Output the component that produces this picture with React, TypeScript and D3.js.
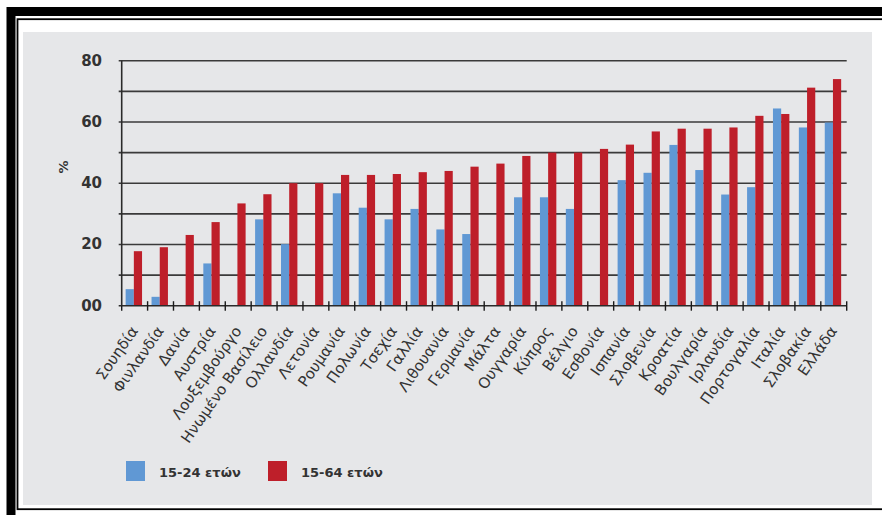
import React from "react";
import * as d3 from "d3";

const countries = [
  "Σουηδία", "Φινλανδία", "Δανία", "Αυστρία", "Λουξεμβούργο", "Ηνωμένο Βασίλειο",
  "Ολλανδία", "Λετονία", "Ρουμανία", "Πολωνία", "Τσεχία", "Γαλλία", "Λιθουανία",
  "Γερμανία", "Μάλτα", "Ουγγαρία", "Κύπρος", "Βέλγιο", "Εσθονία", "Ισπανία",
  "Σλοβενία", "Κροατία", "Βουλγαρία", "Ιρλανδία", "Πορτογαλία", "Ιταλία",
  "Σλοβακία", "Ελλάδα",
];

// 15-24 ετών (null = no bar)
const youth: (number | null)[] = [
  5.4, 2.9, null, 13.8, null, 28.2, 20.1, null, 36.7, 32.0, 28.2, 31.6, 24.9,
  23.4, null, 35.4, 35.4, 31.6, null, 41.0, 43.4, 52.5, 44.3, 36.3, 38.7, 64.4,
  58.2, 59.8,
];

// 15-64 ετών
const total: number[] = [
  17.8, 19.1, 23.1, 27.3, 33.4, 36.4, 40.0, 40.0, 42.7, 42.7, 43.0, 43.6, 44.0,
  45.4, 46.4, 48.9, 50.0, 50.0, 51.2, 52.6, 56.9, 57.8, 57.8, 58.2, 62.0, 62.6,
  71.2, 74.0,
];

const yTickLabels = [
  { v: 0, t: "00" },
  { v: 20, t: "20" },
  { v: 40, t: "40" },
  { v: 60, t: "60" },
  { v: 80, t: "80" },
];
const gridValues = [10, 20, 30, 40, 50, 60, 70, 80];

const seriesNames = ["15-24 ετών", "15-64 ετών"];
const BLUE = "#6098d4";
const RED = "#be1f2a";

export default function App() {
  const left = 121.7;
  const right = 846.7;
  const top = 60.7;
  const bottom = 305.7;

  const x = d3.scaleBand<string>().domain(countries).range([left, right]).padding(0);
  const y = d3.scaleLinear().domain([0, 80]).range([bottom, top]);
  const bw = x.bandwidth();
  const barW = 8.2;
  const pairStart = (bw - 2 * barW) / 2 - 0.8;
  const font = "'DejaVu Sans', sans-serif";

  return (
    <svg
      width={882}
      height={515}
      style={{ position: "absolute", left: 0, top: 0, background: "#ffffff" }}
    >
      {/* frame */}
      <rect x={11} y={11.5} width={900} height={510} fill="none" stroke="#000" strokeWidth={9} />
      <rect x={17.5} y={19.2} width={900} height={490} fill="none" stroke="#000" strokeWidth={1.8} />
      {/* panel */}
      <rect x={23} y={32} width={849} height={473} fill="#e6e7e9" />

      {/* gridlines */}
      {gridValues.map((v) => (
        <line key={v} x1={left - 3} x2={right} y1={y(v)} y2={y(v)} stroke="#3a3a3a" strokeWidth={1.6} />
      ))}

      {/* bars */}
      {countries.map((c, i) => {
        const bx = (x(c) as number) + pairStart;
        const yv = youth[i];
        return (
          <g key={c}>
            {yv !== null && (
              <rect x={bx} y={y(yv)} width={barW} height={y(0) - y(yv)} fill={BLUE} />
            )}
            <rect x={bx + barW} y={y(total[i])} width={barW} height={y(0) - y(total[i])} fill={RED} />
          </g>
        );
      })}

      {/* axes */}
      <line x1={left} x2={left} y1={top} y2={bottom} stroke="#2a2a2a" strokeWidth={1.6} />
      <line x1={left - 3} x2={right} y1={bottom} y2={bottom} stroke="#2a2a2a" strokeWidth={1.6} />
      {countries.map((c, i) => (
        <line key={"t" + i} x1={(x(c) as number) + bw} x2={(x(c) as number) + bw} y1={bottom - 4.5} y2={bottom + 5} stroke="#1a1a1a" strokeWidth={1.4} />
      ))}
      <line x1={left} x2={left} y1={bottom} y2={bottom + 5} stroke="#1a1a1a" strokeWidth={1.4} />

      {/* y labels */}
      {yTickLabels.map((d) => (
        <text key={d.t} x={102} y={y(d.v) + 5} textAnchor="end" fontFamily={font} fontSize={15} fontWeight="bold" fill="#333">
          {d.t}
        </text>
      ))}
      <text transform={`translate(68,167) rotate(-90)`} textAnchor="middle" fontFamily={font} fontSize={13} fontWeight="bold" fill="#333">
        %
      </text>

      {/* x labels */}
      {countries.map((c) => {
        const cx = (x(c) as number) + bw / 2 + 4;
        return (
          <text key={"l" + c} transform={`translate(${cx},${331}) rotate(-55)`} textAnchor="end" fontFamily={font} fontSize={15} fill="#333">
            {c}
          </text>
        );
      })}

      {/* legend */}
      {seriesNames.map((s, i) => {
        const lx = i === 0 ? 126 : 268;
        return (
          <g key={s}>
            <rect x={lx} y={461} width={19} height={20} fill={i === 0 ? BLUE : RED} />
            <text x={lx + 33} y={477} fontFamily={font} fontSize={13} fontWeight="bold" fill="#333">
              {s}
            </text>
          </g>
        );
      })}
    </svg>
  );
}
